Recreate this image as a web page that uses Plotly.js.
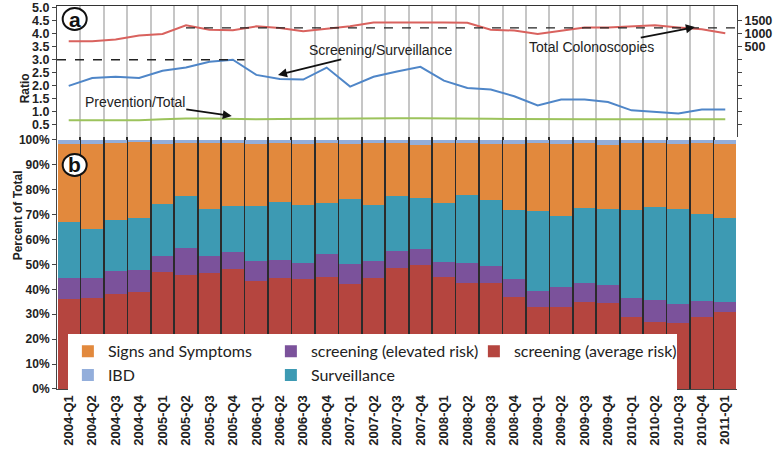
<!DOCTYPE html>
<html>
<head>
<meta charset="utf-8">
<script src="https://cdn.plot.ly/plotly-3.0.1.min.js"></script>
<style>
  body { margin: 0; background: #fff; }
  #chart { width: 777px; height: 451px; }
</style>
</head>
<body>
<div id="chart"></div>
<script>
// quarters on the x axis
var quarters = ["2004-Q1", "2004-Q2", "2004-Q3", "2004-Q4", "2005-Q1", "2005-Q2", "2005-Q3", "2005-Q4",
  "2006-Q1", "2006-Q2", "2006-Q3", "2006-Q4", "2007-Q1", "2007-Q2", "2007-Q3", "2007-Q4",
  "2008-Q1", "2008-Q2", "2008-Q3", "2008-Q4", "2009-Q1", "2009-Q2", "2009-Q3", "2009-Q4",
  "2010-Q1", "2010-Q2", "2010-Q3", "2010-Q4", "2011-Q1"];

// panel a
var totalColonoscopies = [710, 710, 780, 930, 990, 1320, 1150, 1130, 1280, 1220, 1090, 1180, 1280, 1430, 1440,
  1430, 1430, 1420, 1150, 1120, 990, 1120, 1240, 1240, 1280, 1320, 1240, 1170, 1020];
var screeningSurveillance = [2.0, 2.3, 2.35, 2.3, 2.58, 2.7, 2.92, 3.0, 2.42, 2.26, 2.24, 2.7, 1.97, 2.35, 2.55,
  2.73, 2.2, 1.92, 1.86, 1.6, 1.25, 1.48, 1.48, 1.38, 1.06, 1.0, 0.94, 1.09, 1.09];
var preventionTotal = [0.68, 0.68, 0.68, 0.68, 0.72, 0.75, 0.75, 0.73, 0.72, 0.73, 0.74, 0.74, 0.74, 0.75, 0.76,
  0.76, 0.76, 0.75, 0.74, 0.73, 0.72, 0.72, 0.72, 0.72, 0.72, 0.72, 0.72, 0.72, 0.72];
var ratioTicks = [0.5, 1, 1.5, 2, 2.5, 3, 3.5, 4, 4.5, 5];
var countTicks = [-2500, -2000, -1500, -1000, -500, 0, 500, 1000, 1500];

// panel b, percent of total
var pctAverage = [36.1, 36.4, 38.0, 38.8, 47.1, 45.8, 46.5, 48.1, 43.5, 44.4, 44.0, 45.1, 42.2, 44.4, 48.5,
  49.8, 45.1, 42.4, 42.7, 37.1, 33.1, 33.1, 35.1, 34.4, 28.8, 27.0, 26.4, 28.8, 30.8];
var pctElevated = [8.3, 8.0, 9.4, 9.0, 6.3, 10.7, 7.0, 7.0, 8.0, 7.4, 6.7, 9.1, 7.9, 7.1, 7.0,
  6.3, 5.9, 8.1, 6.7, 6.9, 6.4, 7.7, 7.4, 7.3, 7.6, 8.7, 7.7, 6.7, 4.0];
var pctSurveillance = [22.8, 19.7, 20.5, 20.7, 20.9, 21.1, 18.8, 18.5, 22.0, 23.3, 23.2, 20.4, 26.1, 22.3, 22.0,
  20.5, 23.8, 27.5, 26.5, 27.9, 32.0, 28.7, 30.1, 30.7, 35.5, 37.3, 38.2, 34.7, 34.0];
var pctSigns = [31.0, 34.4, 30.9, 30.5, 23.9, 21.2, 26.4, 25.2, 24.7, 23.7, 24.6, 24.1, 22.3, 25.0, 21.3,
  21.4, 24.0, 20.8, 22.6, 26.6, 27.3, 28.7, 26.2, 25.6, 26.9, 25.8, 26.2, 28.6, 29.4];
var pctIBD = [1.8, 1.5, 1.2, 1.0, 1.8, 1.2, 1.3, 1.2, 1.8, 1.2, 1.5, 1.3, 1.5, 1.2, 1.2,
  2.0, 1.2, 1.2, 1.5, 1.5, 1.2, 1.8, 1.2, 2.0, 1.2, 1.2, 1.5, 1.2, 1.8];
var pctTicks = [0, 10, 20, 30, 40, 50, 60, 70, 80, 90, 100];

var fam = "Liberation Sans, Arial, sans-serif";
var bold = {family: fam, size: 12, color: "#222", weight: 700};

function bar(name, vals, color, rank) {
  return {type: "bar", name: name, x: quarters, y: vals, xaxis: "x", yaxis: "y",
    marker: {color: color, line: {width: 0}}, legendrank: rank, hoverinfo: "skip"};
}

var data = [
  bar("screening (average risk)", pctAverage, "#b5453f", 3),
  bar("screening (elevated risk)", pctElevated, "#7b529b", 2),
  bar("Surveillance", pctSurveillance, "#3d9ab3", 5),
  bar("Signs and Symptoms", pctSigns, "#e2893d", 1),
  bar("IBD", pctIBD, "#93aedb", 4),
  {type: "scatter", mode: "lines", x: quarters, y: screeningSurveillance, xaxis: "x2", yaxis: "y2",
    line: {color: "#4f86c8", width: 2}, showlegend: false},
  {type: "scatter", mode: "lines", x: quarters, y: preventionTotal, xaxis: "x2", yaxis: "y2",
    line: {color: "#9cc35c", width: 2}, showlegend: false},
  {type: "scatter", mode: "lines", x: quarters, y: totalColonoscopies, xaxis: "x2", yaxis: "y3",
    line: {color: "#d9625e", width: 2}, showlegend: false}
];

var split = 0.658;

var layout = {
  width: 777, height: 451,
  margin: {l: 57, r: 40, t: 6, b: 62},
  paper_bgcolor: "#fff", plot_bgcolor: "#fff",
  barmode: "stack", bargap: 0.07,
  font: {family: fam, color: "#222"},
  xaxis: {domain: [0, 1], anchor: "y", type: "category", range: [-0.5, 28.5],
    tickson: "boundaries", tickangle: -90, ticks: "",
    tickfont: {family: fam, size: 13, color: "#222", weight: 700},
    showgrid: true, gridcolor: "#2b2b2b", gridwidth: 1.6,
    showline: true, linecolor: "#444", linewidth: 1},
  yaxis: {domain: [0, split], anchor: "x", range: [0, 101.2],
    tickvals: pctTicks, ticktext: pctTicks.map(function(v){ return v + "%"; }),
    tickfont: bold, ticks: "outside", ticklen: 4, tickcolor: "#444",
    showgrid: false, zeroline: false, showline: true, linecolor: "#444"},
  xaxis2: {domain: [0, 1], anchor: "y2", type: "category", range: [-0.5, 28.5],
    tickson: "boundaries", showticklabels: false, ticks: "", side: "top",
    showgrid: true, gridcolor: "#c6c6c6", gridwidth: 2,
    showline: true, linecolor: "#333", linewidth: 1},
  yaxis2: {domain: [split, 1], anchor: "x2", range: [0.04, 5.06],
    tickvals: ratioTicks, ticktext: ratioTicks.map(function(v){ return v.toFixed(1); }),
    tickfont: {family: fam, size: 12.5, color: "#222", weight: 700},
    ticks: "outside", ticklen: 4, tickcolor: "#444",
    showgrid: false, zeroline: false, showline: true, linecolor: "#444"},
  yaxis3: {overlaying: "y2", anchor: "x2", side: "right", range: [-2960, 2060],
    tickvals: countTicks, ticktext: countTicks.map(function(v){ return v > 0 ? String(v) : " "; }),
    tickfont: {family: fam, size: 12.5, color: "#222", weight: 700},
    ticks: "outside", ticklen: 4, tickcolor: "#444",
    showgrid: false, zeroline: false, showline: true, linecolor: "#444"},
  legend: {orientation: "h", x: 0.016, y: 0.143, xanchor: "left", yanchor: "top",
    entrywidth: 158, traceorder: "normal", bgcolor: "#fff", borderwidth: 0,
    font: {family: "Lato, sans-serif", size: 16, color: "#222"}},
  shapes: [
    {type: "line", xref: "x2", yref: "y2", x0: -0.5, x1: 7.5, y0: 3.0, y1: 3.0,
      line: {color: "#222", width: 1.3, dash: "dash"}},
    {type: "line", xref: "x2", yref: "y3", x0: 5, x1: 28.5, y0: 1220, y1: 1220,
      line: {color: "#222", width: 1.3, dash: "dash"}},
    {type: "circle", xref: "paper", yref: "paper", xsizemode: "pixel", ysizemode: "pixel",
      xanchor: 0.026, yanchor: 0.966, x0: -12, x1: 12, y0: -11, y1: 11,
      fillcolor: "#fff", line: {color: "#111", width: 2}},
    {type: "circle", xref: "paper", yref: "paper", xsizemode: "pixel", ysizemode: "pixel",
      xanchor: 0.026, yanchor: 0.585, x0: -12, x1: 12, y0: -11, y1: 11,
      fillcolor: "#fff", line: {color: "#111", width: 2}}
  ],
  annotations: [
    {xref: "paper", yref: "paper", x: 0.026, y: 0.966, xanchor: "center", yanchor: "middle",
      text: "a", showarrow: false, font: {family: fam, size: 21, color: "#111", weight: 700}},
    {xref: "paper", yref: "paper", x: 0.026, y: 0.585, xanchor: "center", yanchor: "middle",
      text: "b", showarrow: false, font: {family: fam, size: 21, color: "#111", weight: 700}},
    {xref: "paper", yref: "paper", x: 0.325, y: 0.82, ax: 102, ay: -25,
      text: "Screening/Surveillance", font: {family: fam, size: 14, color: "#222"},
      showarrow: true, arrowhead: 2, arrowsize: 1, arrowwidth: 1.8, arrowcolor: "#111"},
    {xref: "paper", yref: "paper", x: 0.257, y: 0.713, ax: -97, ay: -14,
      text: "Prevention/Total", font: {family: fam, size: 14, color: "#222"},
      showarrow: true, arrowhead: 2, arrowsize: 1, arrowwidth: 1.8, arrowcolor: "#111"},
    {xref: "paper", yref: "paper", x: 0.938, y: 0.945, ax: -103, ay: 20,
      text: "Total Colonoscopies", font: {family: fam, size: 14, color: "#222"},
      showarrow: true, arrowhead: 2, arrowsize: 1, arrowwidth: 1.8, arrowcolor: "#111"},
    {xref: "paper", yref: "paper", x: -0.060, y: 0.83, text: "Ratio", textangle: -90,
      showarrow: false, font: {family: fam, size: 12, color: "#222", weight: 700}},
    {xref: "paper", yref: "paper", x: -0.071, y: 0.33, text: "Percent of Total", textangle: -90,
      showarrow: false, font: {family: fam, size: 12, color: "#222", weight: 700}}
  ]
};

Plotly.newPlot("chart", data, layout, {displayModeBar: false, responsive: false});
</script>
</body>
</html>
